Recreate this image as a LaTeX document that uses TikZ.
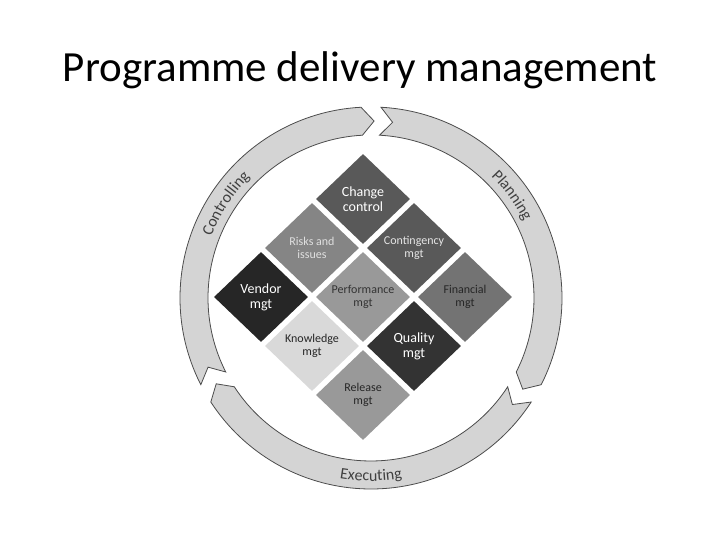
\documentclass[tikz,border=0pt]{standalone}
\usepackage{fontspec}
\setmainfont{Carlito}
\usetikzlibrary{shapes.geometric,decorations.text}
\begin{document}
\begin{tikzpicture}[x=1pt,y=1pt,
  ring/.style={fill=black!17,draw=black!70,line width=0.8pt},
  dia/.style={diamond,draw=none,minimum width=94pt,minimum height=90pt,inner sep=0pt,align=center,font=\fontsize{14}{15}\selectfont},
  small/.style={font=\fontsize{12}{13}\selectfont},
  ringtext/.style={decorate,decoration={text along path,text align=center,text color=black!75,text={|\fontsize{16}{16}\selectfont|#1}}}]
\useasboundingbox (0,0) rectangle (720,540);
\node (title) at (360,470) {\fontsize{43}{46}\selectfont Programme delivery management};
\def\Ro{191}\def\Ri{163}\def\Rm{177}
\begin{scope}[shift={(371,242)}]
\coordinate (C) at (0,0);
\foreach \t/\h in {87/-27, -33/-147, 207/93}{
  \draw[ring] (\t:\Ro) arc[start angle=\t,end angle=\h,radius=\Ro] -- (\h-4:\Rm) -- (\h:\Ri)
    arc[start angle=\h,end angle=\t,radius=\Ri] -- (\t-4:\Rm) -- cycle;
}
\path[ringtext=Controlling] (170:171) arc[start angle=170,end angle=124,radius=171];
\path[ringtext=Planning] (56:171) arc[start angle=56,end angle=16,radius=171];
\path[ringtext=Executing] (252:183) arc[start angle=252,end angle=288,radius=183];
\end{scope}
\begin{scope}[shift={(363,243)}]
\node[dia,fill=black!65,text=white] (change) at (0,98) {Change\\control};
\node[dia,small,fill=black!48,text=black!12] (risks) at (-51,49) {Risks and\\issues};
\node[dia,small,fill=black!65,text=black!10] (cont) at (51,49) {Contingency\\mgt};
\node[dia,fill=black!85,text=white] (vendor) at (-102,0) {Vendor\\mgt};
\node[dia,small,fill=black!40,text=black!80] (perf) at (0,0) {Performance\\mgt};
\node[dia,small,fill=black!55,text=black!85] (fin) at (102,0) {Financial\\mgt};
\node[dia,small,fill=black!15,text=black!85] (know) at (-51,-49) {Knowledge\\mgt};
\node[dia,fill=black!80,text=white] (qual) at (51,-49) {Quality\\mgt};
\node[dia,small,fill=black!40,text=black!85] (rel) at (0,-98) {Release\\mgt};
\end{scope}
\end{tikzpicture}
\end{document}
